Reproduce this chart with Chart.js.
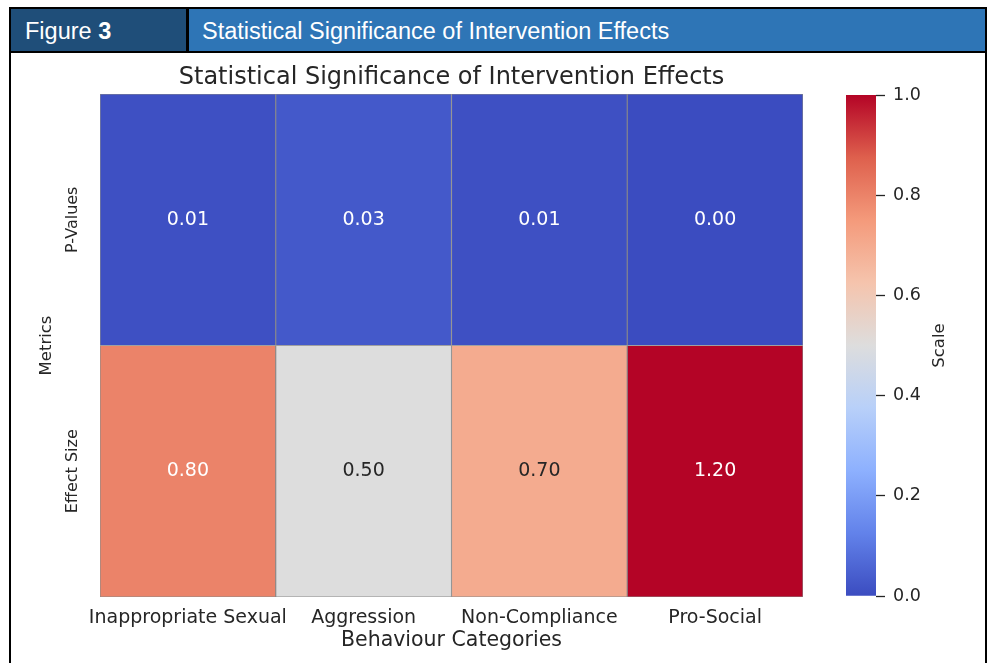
<!DOCTYPE html>
<html>
<head>
<meta charset="utf-8">
<title>Figure 3</title>
<script src="https://cdn.jsdelivr.net/npm/chart.js@4.4.0/dist/chart.umd.min.js"></script>
<style>
  body { margin: 0; width: 992px; height: 663px; overflow: hidden; background: #fff; font-family: 'Liberation Sans', Arial, sans-serif; }
  #frame { position: absolute; left: 9px; top: 7px; width: 978px; height: 700px; border: 2px solid #000; box-sizing: border-box; }
  #header { display: flex; height: 44px; border-bottom: 2px solid #000; box-sizing: border-box; }
  #fig { width: 178px; background: #1F4E79; color: #fff; font-size: 23.5px; line-height: 44px; padding-left: 14px; box-sizing: border-box; border-right: 3px solid #000; }
  #ttl { flex: 1; background: #2E75B6; color: #fff; font-size: 23.5px; line-height: 44px; padding-left: 13px; }
  canvas { position: absolute; left: 0; top: 0; }
</style>
</head>
<body>
<div id="frame">
  <div id="header">
    <div id="fig">Figure <b>3</b></div>
    <div id="ttl">Statistical Significance of Intervention Effects</div>
  </div>
</div>
<canvas id="heat" width="992" height="663"></canvas>
<canvas id="cbar" width="992" height="663"></canvas>
<script>
// data
const categories = ['Inappropriate Sexual', 'Aggression', 'Non-Compliance', 'Pro-Social'];
const metrics = ['P-Values', 'Effect Size'];
const pValues = [0.01, 0.03, 0.01, 0.00];
const effectSizes = [0.80, 0.50, 0.70, 1.20];
const scaleMin = 0;
const scaleMax = 1;
const scaleStep = 0.2;

const rows = [pValues, effectSizes];
const textDark = '#262626';

Chart.defaults.font.family = "'DejaVu Sans', sans-serif";
Chart.defaults.color = textDark;

// matplotlib coolwarm, sampled
const cwStops = [
  [0.000, [59, 76, 192]],
  [0.125, [98, 130, 234]],
  [0.250, [141, 176, 254]],
  [0.375, [184, 208, 249]],
  [0.500, [221, 221, 221]],
  [0.625, [245, 196, 173]],
  [0.750, [244, 154, 123]],
  [0.875, [222, 96, 77]],
  [1.000, [180, 4, 38]]
];

function coolwarmRGB(v) {
  let t = (v - scaleMin) / (scaleMax - scaleMin);
  t = Math.max(0, Math.min(1, t));
  for (let i = 1; i < cwStops.length; i++) {
    if (t <= cwStops[i][0]) {
      const a = cwStops[i - 1], b = cwStops[i];
      const f = (t - a[0]) / (b[0] - a[0]);
      return a[1].map((c, k) => Math.round(c + (b[1][k] - c) * f));
    }
  }
  return cwStops[cwStops.length - 1][1];
}
function coolwarm(v) {
  const c = coolwarmRGB(v);
  return 'rgb(' + c.join(',') + ')';
}
function textColor(v) {
  const lin = coolwarmRGB(v).map(c => {
    c = c / 255;
    return c <= 0.03928 ? c / 12.92 : Math.pow((c + 0.055) / 1.055, 2.4);
  });
  const lum = 0.2126 * lin[0] + 0.7152 * lin[1] + 0.0722 * lin[2];
  return lum > 0.408 ? textDark : '#ffffff';
}

const cellText = {
  id: 'cellText',
  afterDatasetsDraw(chart) {
    const ctx = chart.ctx;
    ctx.save();
    ctx.textAlign = 'center';
    ctx.textBaseline = 'middle';
    ctx.font = "19px 'DejaVu Sans'";
    chart.data.datasets.forEach((ds, i) => {
      chart.getDatasetMeta(i).data.forEach((bar, j) => {
        const v = ds.values[j];
        ctx.fillStyle = textColor(v);
        ctx.fillText(v.toFixed(2), bar.x, (bar.y + bar.base) / 2);
      });
    });
    // row labels, rotated like matplotlib
    const ys = chart.scales.y;
    ctx.font = "16px 'DejaVu Sans'";
    ctx.fillStyle = textDark;
    metrics.forEach((m, r) => {
      ctx.save();
      ctx.translate(ys.right - 27, ys.getPixelForValue(r + 0.5));
      ctx.rotate(-Math.PI / 2);
      ctx.fillText(m, 0, 0);
      ctx.restore();
    });
    ctx.restore();
  }
};

new Chart(document.getElementById('heat'), {
  type: 'bar',
  data: {
    labels: categories,
    datasets: rows.map((vals, r) => ({
      label: metrics[r],
      data: vals.map(() => [r, r + 1]),
      values: vals,
      backgroundColor: vals.map(coolwarm),
      borderColor: '#8a8a8a',
      borderWidth: 0.9,
      borderSkipped: false,
      grouped: false,
      barPercentage: 1,
      categoryPercentage: 1
    }))
  },
  options: {
    responsive: false,
    animation: false,
    layout: { padding: { left: 33, right: 189, top: 0, bottom: 8 } },
    plugins: {
      legend: { display: false },
      tooltip: { enabled: false },
      title: {
        display: true,
        text: 'Statistical Significance of Intervention Effects',
        font: { size: 24, weight: 'normal', lineHeight: 1 },
        color: textDark,
        padding: { top: 66, bottom: 4 },
        fullSize: false
      }
    },
    scales: {
      x: {
        grid: { display: false, drawTicks: false },
        border: { display: false },
        ticks: { font: { size: 19 }, color: textDark, padding: 10, maxRotation: 0, autoSkip: false },
        title: { display: true, text: 'Behaviour Categories', font: { size: 20.5 }, color: textDark, padding: { top: 0, bottom: 2 } },
        afterFit(scale) { scale.height = 58; }
      },
      y: {
        min: 0,
        max: metrics.length,
        reverse: true,
        grid: { display: false, drawTicks: false },
        border: { display: false },
        ticks: { display: false },
        title: { display: true, text: 'Metrics', font: { size: 16.5 }, color: textDark, padding: { top: 4, bottom: 4 } },
        afterFit(scale) { scale.width = 67; }
      }
    }
  },
  plugins: [cellText]
});

// colour bar
const scaleLabel = {
  id: 'scaleLabel',
  afterDraw(chart) {
    const ctx = chart.ctx;
    const a = chart.chartArea;
    ctx.save();
    ctx.font = "16.5px 'DejaVu Sans'";
    ctx.fillStyle = textDark;
    ctx.textAlign = 'center';
    ctx.textBaseline = 'middle';
    ctx.translate(940, (a.top + a.bottom) / 2);
    ctx.rotate(-Math.PI / 2);
    ctx.fillText('Scale', 0, 0);
    ctx.restore();
  }
};

new Chart(document.getElementById('cbar'), {
  type: 'bar',
  data: {
    labels: ['Scale'],
    datasets: [{
      data: [[scaleMin, scaleMax]],
      backgroundColor(c) {
        const area = c.chart.chartArea;
        if (!area) return '#ccc';
        const g = c.chart.ctx.createLinearGradient(0, area.bottom, 0, area.top);
        cwStops.forEach(s => g.addColorStop(s[0], 'rgb(' + s[1].join(',') + ')'));
        return g;
      },
      borderWidth: 0,
      barPercentage: 1,
      categoryPercentage: 1
    }]
  },
  options: {
    responsive: false,
    animation: false,
    layout: { padding: { left: 846, right: 56, top: 95, bottom: 67 } },
    plugins: { legend: { display: false }, tooltip: { enabled: false } },
    scales: {
      x: { display: false },
      y: {
        position: 'right',
        min: scaleMin,
        max: scaleMax,
        grid: { drawOnChartArea: false, drawTicks: true, tickLength: 9, tickColor: textDark, tickWidth: 1.3 },
        border: { display: false },
        ticks: { stepSize: scaleStep, font: { size: 17.5 }, color: textDark, padding: 8, callback: v => v.toFixed(1) },
        afterFit(scale) { scale.width = 60; }
      }
    }
  },
  plugins: [scaleLabel]
});
</script>
</body>
</html>
